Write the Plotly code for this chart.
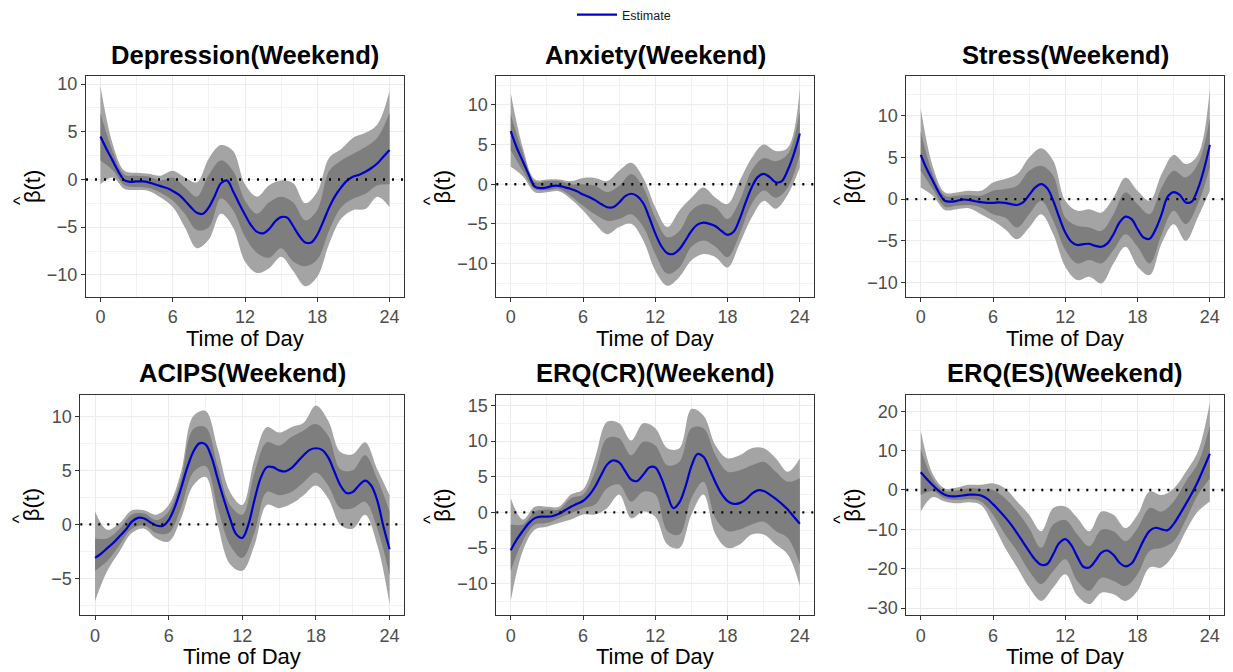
import plotly.graph_objects as go

HOURS = list(range(25))                       # band grid (hourly)
HALF_HOURS = [h / 2 for h in range(49)]       # estimate grid (half-hourly)
X_TICKS = [0, 6, 12, 18, 24]

TITLES = ["Depression(Weekend)", "Anxiety(Weekend)", "Stress(Weekend)",
          "ACIPS(Weekend)", "ERQ(CR)(Weekend)", "ERQ(ES)(Weekend)"]

# ---------------- Depression ----------------
dep_est = [4.5, 3.2, 2.0, 0.8, -0.1, -0.25, -0.2, -0.2, -0.3, -0.5, -0.7, -0.9, -1.2, -1.6, -2.2, -2.9, -3.5, -3.6, -2.9, -1.7,
           -0.4, -0.1, -1.2, -2.5, -3.7, -4.8, -5.5, -5.65, -5.2, -4.4, -3.95, -4.0, -4.9, -5.9, -6.6, -6.6, -5.8, -4.4, -2.9, -1.7,
           -0.8, -0.1, 0.3, 0.5, 0.8, 1.2, 1.7, 2.4, 3.1]
dep_in_hi = [7.0, 3.0, 0.5, 0.4, 0.3, -0.1, 0.2, -0.8, -1.8, 0.5, 2.0, 0.9, -2.2, -3.6, -2.4, -1.8, -2.4, -4.3, -3.2, 0.9, 2.0, 2.7, 3.4, 4.4, 7.0]
dep_in_lo = [2.0, 1.0, -0.6, -0.8, -0.9, -1.4, -2.2, -3.6, -5.3, -5.0, -2.0, -3.2, -6.0, -7.7, -8.2, -7.2, -8.6, -9.1, -8.4, -5.3, -2.9, -2.0, -1.5, -0.6, -0.5]
dep_out_hi = [9.8, 3.8, 0.9, 0.7, 0.6, 0.4, 0.9, 0.2, -0.3, 2.2, 3.6, 3.0, -0.5, -1.8, -0.6, -0.1, -0.4, -2.5, -1.3, 2.3, 3.2, 4.4, 4.9, 5.8, 9.3]
dep_out_lo = [-0.5, 0.2, -1.0, -1.1, -1.2, -1.9, -2.9, -5.0, -7.2, -6.3, -3.6, -5.0, -8.6, -9.8, -9.3, -8.1, -9.6, -11.2, -10.2, -6.7, -4.1, -3.2, -3.1, -1.8, -2.9]

# ---------------- Anxiety ----------------
anx_est = [6.7, 4.6, 2.9, 1.2, -0.3, -0.5, -0.4, -0.2, -0.2, -0.4, -0.6, -0.9, -1.3, -1.6, -2.0, -2.5, -2.9, -2.9, -2.3, -1.5,
           -1.2, -1.5, -2.4, -4.2, -6.2, -7.8, -8.7, -8.8, -8.2, -7.1, -5.9, -5.1, -4.85, -5.0, -5.3, -5.9, -6.4, -6.0, -4.4, -2.3,
           -0.4, 0.9, 1.3, 0.9, 0.25, 0.4, 1.8, 3.8, 6.4]
anx_in_hi = [8.8, 4.0, 0.3, 0.4, 0.4, 0.0, 0.0, -0.2, -1.0, -0.2, 1.3, -0.4, -4.2, -6.7, -5.9, -3.3, -2.5, -2.9, -4.4, -2.1, 1.7, 3.3, 2.9, 3.8, 9.2]
anx_in_lo = [4.3, 1.7, -0.6, -0.75, -0.6, -1.5, -2.7, -3.8, -4.6, -4.4, -3.8, -5.4, -8.8, -11.3, -10.5, -7.9, -7.1, -7.9, -9.2, -6.3, -2.5, -0.8, -1.7, -0.4, 3.8]
anx_out_hi = [11.5, 4.6, 0.6, 0.6, 0.6, 0.4, 0.8, 0.8, 0.4, 1.7, 2.7, 0.8, -2.9, -5.4, -3.3, -1.7, -0.4, -1.7, -2.5, 0.4, 3.3, 5.0, 4.2, 4.6, 12.1]
anx_out_lo = [2.2, 1.0, -1.0, -1.0, -0.9, -1.9, -3.3, -5.0, -6.3, -5.4, -5.0, -7.1, -10.9, -12.8, -11.7, -9.6, -8.8, -9.2, -10.5, -7.5, -4.2, -2.1, -3.1, -1.3, 2.1]

# ---------------- Stress ----------------
str_est = [5.3, 3.6, 2.2, 0.8, -0.2, -0.3, -0.2, -0.05, -0.1, -0.25, -0.35, -0.45, -0.45, -0.4, -0.45, -0.6, -0.7, -0.4, 0.5, 1.4,
           1.8, 1.3, -0.2, -2.2, -4.0, -5.1, -5.5, -5.4, -5.35, -5.6, -5.7, -5.3, -4.2, -2.8, -2.1, -2.4, -3.6, -4.6, -4.75, -3.6,
           -1.8, 0.3, 0.85, 0.5, -0.4, -0.3, 1.2, 3.5, 6.5]
str_in_hi = [8.1, 3.0, 0.4, 0.4, 0.5, 0.4, 1.0, 1.2, 1.6, 3.4, 4.0, 2.8, -2.2, -3.2, -3.4, -3.8, -1.8, 0.8, -0.6, -1.8, 1.4, 3.4, 2.6, 4.2, 9.7]
str_in_lo = [3.4, 1.2, -0.9, -0.8, -0.7, -1.0, -1.8, -2.2, -3.4, -1.8, -0.2, -2.6, -6.1, -7.7, -7.3, -7.7, -6.1, -4.2, -5.7, -7.7, -4.2, -1.4, -3.0, -0.6, 3.8]
str_out_hi = [10.9, 3.9, 0.8, 0.8, 1.0, 1.0, 2.0, 2.4, 3.0, 5.0, 6.1, 4.6, -0.2, -1.4, -1.2, -1.6, 0.2, 2.6, 1.0, -0.2, 3.0, 5.3, 4.2, 5.3, 13.3]
str_out_lo = [1.4, 0.4, -1.3, -1.2, -1.1, -1.8, -2.6, -3.6, -4.8, -3.4, -1.8, -4.2, -8.1, -9.7, -9.3, -10.1, -7.7, -5.7, -8.1, -9.1, -5.3, -3.0, -5.0, -2.2, 1.0]

# ---------------- ACIPS ----------------
aci_est = [-3.1, -2.7, -2.2, -1.7, -1.1, -0.5, 0.25, 0.6, 0.55, 0.2, -0.1, -0.15, 0.4, 1.6, 3.3, 5.2, 6.7, 7.5, 7.4, 6.2,
           4.2, 2.3, 0.55, -0.9, -1.25, 0.0, 2.3, 4.3, 5.3, 5.3, 5.0, 4.9, 5.2, 5.8, 6.4, 6.9, 7.05, 6.9, 6.2, 4.9,
           3.6, 2.9, 3.0, 3.6, 4.05, 3.6, 2.2, -0.2, -2.3]
aci_in_hi = [-1.3, -1.3, -0.4, 0.9, 1.0, 0.4, 1.2, 4.2, 8.8, 9.0, 5.4, 1.8, 0.9, 4.8, 7.6, 7.3, 8.1, 8.7, 9.3, 8.2, 5.1, 5.0, 6.4, 4.2, 1.2]
aci_in_lo = [-4.3, -3.4, -1.9, -0.4, -0.1, -0.8, -0.8, 1.5, 4.8, 5.4, 1.5, -1.9, -3.1, -0.7, 3.0, 2.7, 3.0, 3.9, 4.8, 3.6, 1.5, 1.5, 2.1, -0.4, -4.7]
aci_out_hi = [1.2, -0.5, 0.1, 1.3, 1.3, 0.9, 1.8, 4.8, 10.0, 10.5, 7.0, 3.0, 1.8, 6.1, 9.0, 8.5, 9.0, 9.4, 11.0, 9.6, 6.7, 6.5, 7.6, 5.1, 2.7]
aci_out_lo = [-7.1, -4.3, -2.5, -0.8, -0.4, -1.3, -1.6, 0.55, 3.6, 4.4, -0.06, -3.7, -4.3, -1.9, 1.8, 1.5, 1.9, 2.7, 3.6, 2.4, -0.06, -0.4, 0.9, -1.9, -7.4]

# ---------------- ERQ(CR) ----------------
cr_est = [-5.3, -3.8, -2.6, -1.5, -0.8, -0.6, -0.6, -0.5, -0.2, 0.3, 0.8, 1.2, 1.6, 2.4, 3.6, 5.2, 6.7, 7.3, 7.0, 5.8,
          4.6, 4.4, 5.3, 6.3, 6.3, 4.8, 2.5, 0.6, 1.4, 3.6, 6.5, 8.2, 7.8, 6.1, 4.2, 2.6, 1.6, 1.2, 1.3, 1.8,
          2.6, 3.1, 3.0, 2.5, 1.9, 1.2, 0.4, -0.6, -1.6]
cr_in_hi = [-1.7, -1.7, 0.14, 0.4, 0.4, 2.0, 2.5, 5.7, 10.4, 10.4, 8.0, 9.9, 9.4, 6.6, 7.1, 11.8, 11.8, 8.0, 5.7, 5.9, 6.6, 7.1, 5.7, 4.3, 4.8]
cr_in_lo = [-8.2, -4.0, -1.7, -1.5, -0.8, -0.1, 0.6, 1.1, 3.4, 3.9, 1.5, 2.9, 2.5, -2.6, -3.1, 2.0, 4.3, -0.8, -2.6, -2.4, -1.7, -1.3, -2.6, -3.6, -7.3]
cr_out_hi = [2.0, -1.0, 0.8, 0.8, 0.8, 2.5, 3.2, 7.6, 12.7, 12.5, 10.1, 12.5, 11.8, 9.0, 9.0, 14.5, 13.6, 9.4, 7.6, 8.0, 9.0, 9.0, 7.6, 5.7, 7.6]
cr_out_lo = [-12.4, -5.4, -2.4, -2.0, -1.5, -1.0, -0.3, -0.3, 0.6, 2.5, -0.8, 0.14, -0.6, -4.5, -5.0, -0.3, 2.5, -3.1, -5.0, -4.5, -3.1, -3.1, -4.5, -5.9, -10.3]

# ---------------- ERQ(ES) ----------------
es_est = [4.5, 2.8, 1.2, -0.2, -1.2, -1.6, -1.6, -1.4, -1.2, -1.2, -1.4, -2.2, -3.6, -5.2, -6.9, -8.8, -11.0, -13.3, -15.6, -17.7,
          -19.0, -18.8, -16.3, -13.5, -12.5, -14.0, -17.0, -19.5, -19.7, -18.0, -15.9, -15.4, -16.5, -18.5, -19.4, -18.7, -16.0, -12.8, -10.4, -9.6,
          -10.0, -10.2, -8.6, -6.2, -3.6, -0.9, 2.1, 5.6, 9.2]
es_in_hi = [10.5, 2.8, -0.25, -0.1, 0.4, 0.25, 0.0, -2.1, -5.5, -9.7, -14.7, -8.8, -7.6, -11.3, -14.3, -10.1, -10.5, -13.0, -9.7, -4.6, -5.5, -2.9, 2.1, 6.7, 16.4]
es_in_lo = [-1.3, -0.3, -2.1, -2.5, -2.3, -2.9, -6.3, -11.3, -15.5, -20.6, -23.9, -20.6, -17.6, -23.1, -25.6, -22.3, -23.1, -24.4, -21.4, -15.5, -14.7, -13.0, -7.6, -1.3, 2.9]
es_out_hi = [15.1, 4.0, 0.4, 0.6, 1.3, 1.3, 1.7, 0.4, -2.9, -6.3, -10.5, -4.6, -4.2, -7.1, -10.5, -5.5, -6.3, -9.7, -6.3, -0.4, -1.3, 0.4, 4.6, 9.7, 22.3]
es_out_lo = [-5.5, -1.8, -2.9, -3.4, -3.1, -3.8, -8.8, -14.7, -19.7, -24.8, -28.2, -24.8, -21.4, -26.9, -29.0, -26.1, -26.5, -28.2, -25.6, -19.7, -19.7, -16.4, -10.5, -5.5, -2.9]

Y_TICKS = [[-10, -5, 0, 5, 10], [-10, -5, 0, 5, 10], [-10, -5, 0, 5, 10],
           [-5, 0, 5, 10], [-10, -5, 0, 5, 10, 15], [-30, -20, -10, 0, 10, 20]]
Y_RANGES = [[-12.3, 10.8], [-14.2, 13.6], [-11.7, 14.7],
            [-8.4, 12.0], [-14.4, 16.5], [-31.8, 24.2]]

DATA = [
    (dep_est, dep_in_lo, dep_in_hi, dep_out_lo, dep_out_hi),
    (anx_est, anx_in_lo, anx_in_hi, anx_out_lo, anx_out_hi),
    (str_est, str_in_lo, str_in_hi, str_out_lo, str_out_hi),
    (aci_est, aci_in_lo, aci_in_hi, aci_out_lo, aci_out_hi),
    (cr_est, cr_in_lo, cr_in_hi, cr_out_lo, cr_out_hi),
    (es_est, es_in_lo, es_in_hi, es_out_lo, es_out_hi),
]

W, H = 1233, 672
FONT = "Liberation Sans, Arial, sans-serif"
OUTER = "rgb(164,164,164)"
INNER = "rgb(126,126,126)"
BLUE = "rgb(0,0,205)"

# pixel boxes of the panels (left, right, top, bottom)
BOXES = [(86, 404, 75, 297), (496.3, 814.3, 75, 297), (906.3, 1224.3, 75, 297),
         (80.3, 404.3, 395.7, 617.7), (496.3, 814.3, 395.7, 617.7), (906.3, 1224.3, 395.7, 617.7)]
YTITLE_OFF = [53.5, 53.5, 53.5, 48, 53.5, 53.5]

fig = go.Figure()
layout = dict(width=W, height=H, margin=dict(l=0, r=0, t=0, b=0),
              paper_bgcolor="white", plot_bgcolor="white",
              font=dict(family=FONT, color="black"))
annotations = []
shapes = []

for i, (est, ilo, ihi, olo, ohi) in enumerate(DATA):
    n = i + 1
    xa = "x" if n == 1 else f"x{n}"
    ya = "y" if n == 1 else f"y{n}"
    L, R, T, B = BOXES[i]
    xd = [L / W, R / W]
    yd = [1 - B / H, 1 - T / H]
    common = dict(xaxis=xa, yaxis=ya, mode="lines", hoverinfo="skip")
    band = dict(width=0, shape="spline", smoothing=1.0)
    fig.add_trace(go.Scatter(x=HOURS, y=olo, line=band, showlegend=False, **common))
    fig.add_trace(go.Scatter(x=HOURS, y=ohi, line=band, fill="tonexty", fillcolor=OUTER,
                             showlegend=False, **common))
    fig.add_trace(go.Scatter(x=HOURS, y=ilo, line=band, showlegend=False, **common))
    fig.add_trace(go.Scatter(x=HOURS, y=ihi, line=band, fill="tonexty", fillcolor=INNER,
                             showlegend=False, **common))
    fig.add_trace(go.Scatter(x=HALF_HOURS, y=est,
                             line=dict(width=2.2, color=BLUE, shape="spline", smoothing=1.0),
                             name="Estimate", showlegend=(i == 0), **common))

    yt = Y_TICKS[i]
    step = yt[1] - yt[0]
    axis_common = dict(showline=True, mirror=True, linecolor="#333333", linewidth=1,
                       ticks="outside", ticklen=4, tickcolor="#333333", tickwidth=1,
                       showgrid=True, gridcolor="#ebebeb", gridwidth=1.1, zeroline=False,
                       tickfont=dict(size=18, color="#4d4d4d", family=FONT))
    layout["xaxis" if n == 1 else f"xaxis{n}"] = dict(
        domain=xd, anchor=ya, range=[-1.2, 25.2], tickvals=X_TICKS,
        minor=dict(tickvals=[3, 9, 15, 21], showgrid=True, gridcolor="#f2f2f2", gridwidth=0.6, ticklen=0),
        **axis_common)
    layout["yaxis" if n == 1 else f"yaxis{n}"] = dict(
        domain=yd, anchor=xa, range=Y_RANGES[i], tickvals=yt,
        minor=dict(dtick=step / 2, tick0=yt[0] + step / 2, showgrid=True,
                   gridcolor="#f2f2f2", gridwidth=0.6, ticklen=0),
        **axis_common)

    shapes.append(dict(type="line", xref=f"{xa} domain", yref=ya, x0=0, x1=1, y0=0, y1=0,
                       line=dict(color="black", width=2.4, dash="2px,7px"), layer="above"))

    cx = (L + R) / 2 / W
    cy = (T + B) / 2
    annotations.append(dict(text=f"<b>{TITLES[i]}</b>", x=cx, y=1 - (T - 22) / H,
                            xref="paper", yref="paper", showarrow=False,
                            xanchor="center", yanchor="middle",
                            font=dict(size=25.6, color="black", family=FONT)))
    annotations.append(dict(text="Time of Day", x=cx, y=1 - (B + 42) / H,
                            xref="paper", yref="paper", showarrow=False,
                            xanchor="center", yanchor="middle",
                            font=dict(size=22, color="black", family=FONT)))
    off = YTITLE_OFF[i]
    annotations.append(dict(text="β(t)", x=(L - off) / W, y=1 - cy / H,
                            xref="paper", yref="paper", showarrow=False, textangle=-90,
                            xanchor="center", yanchor="middle",
                            font=dict(size=22, color="black", family=FONT)))
    annotations.append(dict(text="^", x=(L - off - 13) / W, y=1 - (cy + 14) / H,
                            xref="paper", yref="paper", showarrow=False, textangle=-90,
                            xanchor="center", yanchor="middle",
                            font=dict(size=18, color="black", family=FONT)))

layout["annotations"] = annotations
layout["shapes"] = shapes
layout["showlegend"] = True
layout["legend"] = dict(orientation="h", x=572 / W, xanchor="left", y=1 + 2 / H, yanchor="top",
                        itemwidth=40,
                        font=dict(size=12.5, color="#1a1a1a", family=FONT),
                        bgcolor="rgba(0,0,0,0)")
fig.update_layout(**layout)
fig.write_html("out.html")
